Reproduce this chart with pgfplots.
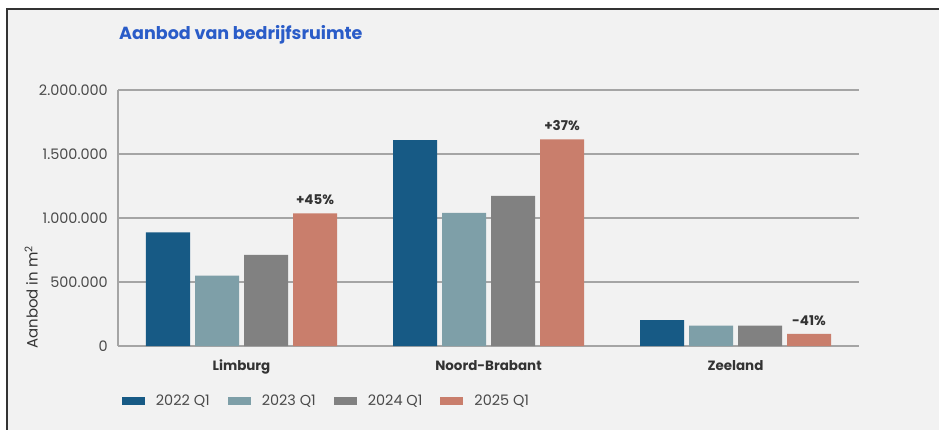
\documentclass[border=0pt]{standalone}
\usepackage{pgfplots}
\usepackage{pgfplotstable}
\pgfplotsset{compat=1.18}
\usepackage{fontspec}
\setmainfont{Poppins}

\definecolor{c22}{HTML}{175A85}
\definecolor{c23}{HTML}{7E9FA8}
\definecolor{c24}{HTML}{818181}
\definecolor{c25}{HTML}{C97E6C}
\definecolor{titleblue}{HTML}{2A5CC8}
\definecolor{bg}{HTML}{F2F2F2}
\definecolor{gridc}{HTML}{A5A5A5}
\definecolor{txt}{HTML}{4A4A4A}

% aanbod in m2 per provincie (0 = Limburg, 1 = Noord-Brabant, 2 = Zeeland)
\pgfplotstableread{
x y
0 888000
1 1609000
2 203000
}\qa
\pgfplotstableread{
x y
0 549000
1 1040000
2 159000
}\qb
\pgfplotstableread{
x y
0 711000
1 1172000
2 159000
}\qc
\pgfplotstableread{
x y lab
0 1037000 +45\%
1 1615000 +37\%
2 94000 -41\%
}\qd

\begin{document}
\begin{tikzpicture}
\path[use as bounding box, fill=white] (0,0) rectangle (939bp,-430bp);
\fill[bg] (7bp,-9bp) rectangle (939bp,-430bp);
\draw[line width=1.5bp, black!80] (7bp,-430bp) -- (7bp,-9bp) -- (939bp,-9bp);

\node[anchor=base west, inner sep=0, font=\fontsize{17.6}{20}\selectfont\bfseries, text=titleblue]
  at (119bp,-39bp) {Aanbod van bedrijfsruimte};

\begin{axis}[
    scale only axis,
    width=741bp, height=256bp,
    at={(118bp,-346bp)}, anchor=south west,
    xmin=-0.5, xmax=2.5,
    ymin=0, ymax=2000000,
    ybar, bar width=44bp,
    xtick={0,1,2},
    xticklabels={Limburg,Noord-Brabant,Zeeland},
    ytick={0,500000,1000000,1500000,2000000},
    scaled y ticks=false,
    /pgf/number format/.cd, 1000 sep={.}, fixed, assume math mode=true,
    /pgfplots/.cd,
    major tick length=0,
    axis x line*=bottom, axis y line*=left,
    axis line style={gridc, line width=1.2bp},
    ymajorgrids,
    grid style={gridc, line width=1.2bp},
    yticklabel style={font=\fontsize{14.5}{16}\selectfont, text=txt, inner xsep=0, xshift=-10bp},
    xticklabel style={font=\fontsize{13.5}{15}\selectfont\bfseries, text=black!80, inner ysep=0, yshift=-14bp},
    ylabel={Aanbod in m\textsuperscript{2}},
    ylabel style={at={(axis description cs:-0.117,0.19)}, anchor=center,
      font=\fontsize{15}{17}\selectfont, text=black!80},
    legend columns=4,
    legend style={at={(axis description cs:0.001,-0.215)}, anchor=west,
      draw=none, fill=none, font=\fontsize{14.5}{16}\selectfont, text=txt,
      /tikz/every odd column/.append style={column sep=11bp},
      /tikz/every even column/.append style={column sep=18bp},
      nodes={inner xsep=0}},
    legend image code/.code={\fill (0bp,-4bp) rectangle (23bp,4bp);},
    every axis plot/.append style={draw=none},
]
\addplot[fill=c22, bar shift=-73.5bp] table[x=x, y=y] {\qa};
\addlegendentry{2022 Q1}
\addplot[fill=c23, bar shift=-24.5bp] table[x=x, y=y] {\qb};
\addlegendentry{2023 Q1}
\addplot[fill=c24, bar shift=24.5bp] table[x=x, y=y] {\qc};
\addlegendentry{2024 Q1}
\addplot[fill=c25, bar shift=73.5bp,
    point meta=explicit symbolic,
    nodes near coords,
    every node near coord/.append style={font=\fontsize{13.5}{15}\selectfont\bfseries,
      text=black!80, yshift=5bp}]
  table[x=x, y=y, meta=lab] {\qd};
\addlegendentry{2025 Q1}
\end{axis}
\end{tikzpicture}
\end{document}
